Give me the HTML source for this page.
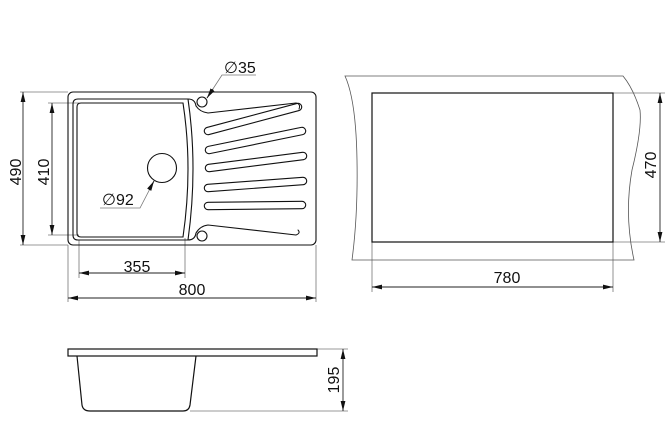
<!DOCTYPE html>
<html><head><meta charset="utf-8"><style>html,body{margin:0;padding:0;background:#fff}svg{display:block}</style></head>
<body>
<svg width="669" height="445" viewBox="0 0 669 445" xmlns="http://www.w3.org/2000/svg" font-family="Liberation Sans, sans-serif" font-size="16" fill="none">
<defs>
<marker id="a" viewBox="0 0 10 6" refX="10" refY="3" markerWidth="10" markerHeight="6" markerUnits="userSpaceOnUse" orient="auto-start-reverse"><path d="M0,0.6 L10,3 L0,5.4 Z" fill="#111"/></marker>
</defs>
<g stroke="#777" stroke-width="0.8">
<line x1="20" y1="92" x2="68" y2="92"/><line x1="20" y1="245" x2="68" y2="245"/>
<line x1="48" y1="103" x2="79" y2="103"/><line x1="48" y1="235" x2="79" y2="235"/>
<line x1="79" y1="240" x2="79" y2="278"/><line x1="185" y1="238" x2="185" y2="278"/>
<line x1="68" y1="245" x2="68" y2="302"/><line x1="316" y1="245" x2="316" y2="302"/>
<line x1="613" y1="93" x2="665" y2="93"/><line x1="613" y1="242" x2="665" y2="242"/>
<line x1="372" y1="242" x2="372" y2="292"/><line x1="613" y1="242" x2="613" y2="292"/>
<line x1="317" y1="349" x2="348" y2="349"/><line x1="190" y1="411" x2="348" y2="411"/>
<polyline points="207,98 222,75 256,75"/>
<polyline points="154,181 140,208 100,208"/>
</g>
<g stroke="#222" stroke-width="0.9">
<line x1="23" y1="92" x2="23" y2="245" marker-start="url(#a)" marker-end="url(#a)"/>
<line x1="52" y1="103" x2="52" y2="235" marker-start="url(#a)" marker-end="url(#a)"/>
<line x1="79" y1="273" x2="185" y2="273" marker-start="url(#a)" marker-end="url(#a)"/>
<line x1="68" y1="298" x2="316" y2="298" marker-start="url(#a)" marker-end="url(#a)"/>
<line x1="660" y1="93" x2="660" y2="242" marker-start="url(#a)" marker-end="url(#a)"/>
<line x1="372" y1="287" x2="613" y2="287" marker-start="url(#a)" marker-end="url(#a)"/>
<line x1="343" y1="349" x2="343" y2="411" marker-start="url(#a)" marker-end="url(#a)"/>
<line x1="207" y1="98" x2="213" y2="89" marker-start="url(#a)"/>
<line x1="154" y1="181" x2="149" y2="190" marker-start="url(#a)"/>
</g>
<g stroke="#111" stroke-width="1.1">
<rect x="68" y="92" width="248" height="153" rx="5"/>
<path d="M78,99 H188 Q195,99 196,106 Q200,112 208,113 L296,103"/>
<path d="M78,99 Q73,99 73,104 V235 Q73,240 78,240 H188 Q195,240 196,233 Q200,226 208,225 L296,235"/>
<path d="M188,99 Q198,168 188,240"/>
<path d="M81,103 Q77,103 77,107 V233 Q77,237 81,237 H183 Q193,168 183,103 Z"/>
<circle cx="162" cy="168" r="14.5"/>
<circle cx="202" cy="102" r="5"/>
<circle cx="202" cy="236" r="5"/>
<g stroke-linecap="round">
<g stroke="#111" stroke-width="8.5">
<line x1="208" y1="131" x2="298" y2="107"/>
<line x1="209" y1="150" x2="302" y2="131"/>
<line x1="209" y1="168" x2="303" y2="156"/>
<line x1="208" y1="188" x2="303" y2="181"/>
<line x1="208" y1="206" x2="302" y2="205"/>
</g>
<g stroke="#fff" stroke-width="6.3">
<line x1="208" y1="131" x2="298" y2="107"/>
<line x1="209" y1="150" x2="302" y2="131"/>
<line x1="209" y1="168" x2="303" y2="156"/>
<line x1="208" y1="188" x2="303" y2="181"/>
<line x1="208" y1="206" x2="302" y2="205"/>
</g>
<path d="M296,103 Q301,104 299,109" stroke-width="1"/>
<path d="M296,235 Q301,233 298,230" stroke-width="1"/>
</g>
<path d="M345,76 H623 Q633,88 640,110 Q642,130 632,170 Q624,215 634,260 H352 Q358,215 357,160 Q356,100 345,76 Z" stroke="#555" stroke-width="0.8"/>
<rect x="372" y="93" width="241" height="149" stroke="#111" stroke-width="1.2"/>
<rect x="68" y="349" width="249" height="7" stroke-width="1.2"/>
<path d="M77,356 L82,405 Q83,411 90,411 H183 Q189,411 190,405 L196,356" stroke-width="1.2"/>
</g>
<g fill="#111" stroke="none">
<text x="224" y="73">∅35</text>
<text x="102" y="205">∅92</text>
<text x="137" y="272" text-anchor="middle">355</text>
<text x="192" y="295" text-anchor="middle">800</text>
<text x="507" y="283" text-anchor="middle">780</text>
<text transform="translate(21,172) rotate(-90)" text-anchor="middle">490</text>
<text transform="translate(49,172) rotate(-90)" text-anchor="middle">410</text>
<text transform="translate(656,165) rotate(-90)" text-anchor="middle">470</text>
<text transform="translate(339,380) rotate(-90)" text-anchor="middle">195</text>
</g>
</svg>
</body></html>
